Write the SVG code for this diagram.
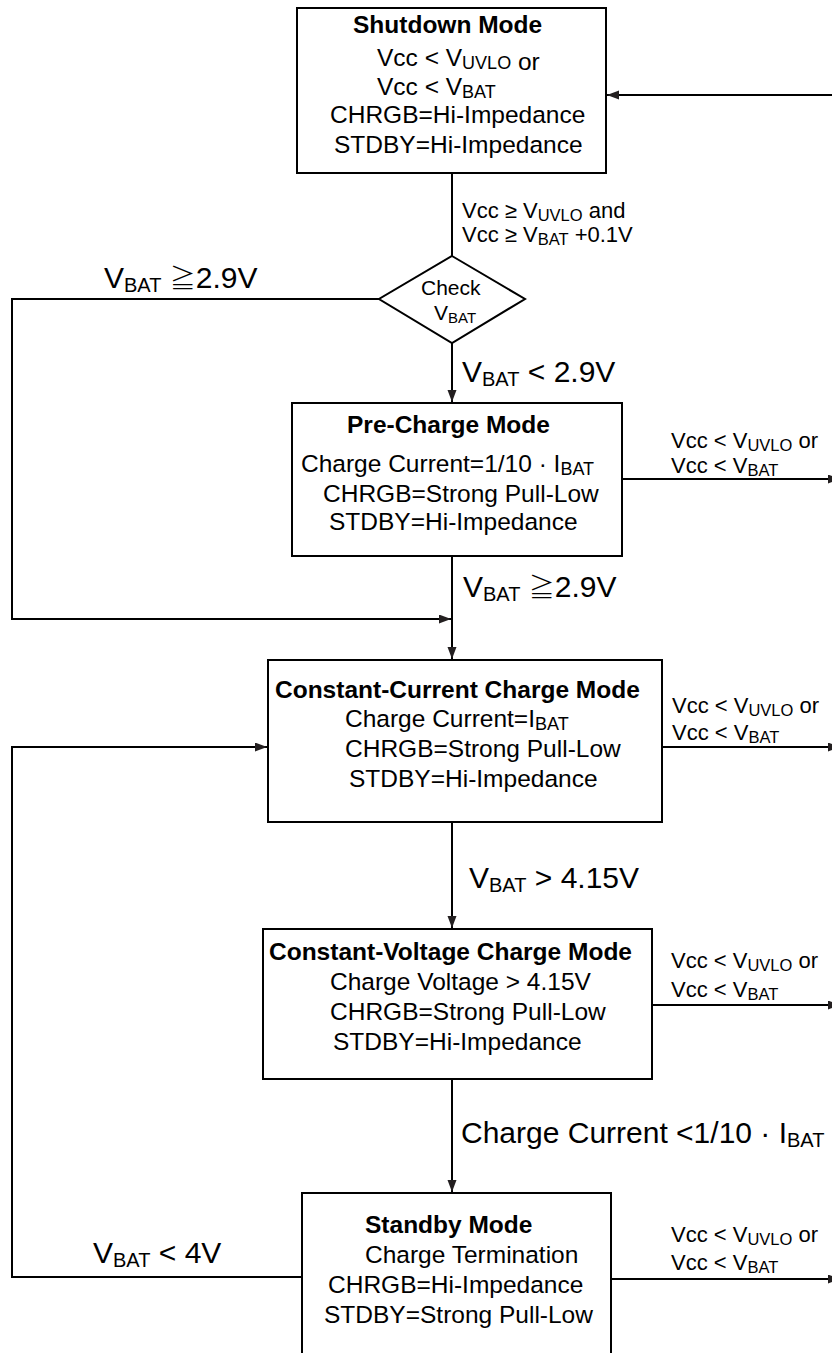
<svg xmlns="http://www.w3.org/2000/svg" width="832" height="1353" viewBox="0 0 832 1353">
<defs>
<marker id="arr" markerUnits="userSpaceOnUse" markerWidth="13" markerHeight="10" refX="12" refY="4.5" orient="auto">
<path d="M0,0 L12,4.5 L0,9 z" fill="#231f20"/>
</marker>
<style>
text{font-family:"Liberation Sans",Arial,"Noto Sans CJK SC",sans-serif;fill:#000}
.b{font-size:24.5px}
.t{font-size:24.5px;font-weight:bold}
.bs{font-size:18px}
.l{font-size:22px}
.ls{font-size:16.5px}
.g{font-size:30px}
.gs{font-size:20px}
.ge{font-family:"Noto Sans CJK SC","Noto Sans CJK JP",sans-serif;font-weight:300;font-size:26px}
.d{font-size:21px}
.ds{font-size:15px}
.box{fill:#fff;stroke:#000;stroke-width:2}
.c{fill:none;stroke:#000;stroke-width:2}
</style>
</defs>
<rect width="832" height="1353" fill="#fff"/>

<g id="connectors">
<line class="c" x1="832" y1="95" x2="607" y2="95" marker-end="url(#arr)"/>
<line class="c" x1="452" y1="173" x2="452" y2="256"/>
<polyline class="c" points="379,299 12,299 12,619 451,619" marker-end="url(#arr)"/>
<line class="c" x1="452" y1="343" x2="452" y2="402" marker-end="url(#arr)"/>
<line class="c" x1="622" y1="479" x2="840" y2="479" marker-end="url(#arr)"/>
<line class="c" x1="452" y1="556" x2="452" y2="659" marker-end="url(#arr)"/>
<line class="c" x1="662" y1="747" x2="840" y2="747" marker-end="url(#arr)"/>
<polyline class="c" points="302,1277 12,1277 12,747 267,747" marker-end="url(#arr)"/>
<line class="c" x1="452" y1="822" x2="452" y2="928" marker-end="url(#arr)"/>
<line class="c" x1="652" y1="1005" x2="840" y2="1005" marker-end="url(#arr)"/>
<line class="c" x1="452" y1="1079" x2="452" y2="1192" marker-end="url(#arr)"/>
<line class="c" x1="611" y1="1279" x2="840" y2="1279" marker-end="url(#arr)"/>
</g>

<g id="labels">
<text class="l" x="462" y="218">Vcc ≥ V<tspan class="ls" dy="3">UVLO</tspan><tspan dy="-3"> and</tspan></text>
<text class="l" x="462" y="242">Vcc ≥ V<tspan class="ls" dy="3">BAT</tspan><tspan dy="-3"> +0.1V</tspan></text>
<text class="g" x="104" y="288">V<tspan class="gs" dy="4">BAT</tspan><tspan dy="-4"> </tspan><tspan class="ge">≧</tspan><tspan>2.9V</tspan></text>
<text class="g" x="462" y="382">V<tspan class="gs" dy="4">BAT</tspan><tspan dy="-4"> &lt; 2.9V</tspan></text>
<text class="l" x="671" y="448">Vcc &lt; V<tspan class="ls" dy="3">UVLO</tspan><tspan dy="-3"> or</tspan></text>
<text class="l" x="671" y="473">Vcc &lt; V<tspan class="ls" dy="3">BAT</tspan></text>
<text class="g" x="463" y="597">V<tspan class="gs" dy="4">BAT</tspan><tspan dy="-4"> </tspan><tspan class="ge">≧</tspan><tspan>2.9V</tspan></text>
<text class="l" x="672" y="713">Vcc &lt; V<tspan class="ls" dy="3">UVLO</tspan><tspan dy="-3"> or</tspan></text>
<text class="l" x="672" y="740">Vcc &lt; V<tspan class="ls" dy="3">BAT</tspan></text>
<text class="g" x="469" y="888">V<tspan class="gs" dy="4">BAT</tspan><tspan dy="-4"> &gt; 4.15V</tspan></text>
<text class="l" x="671" y="968">Vcc &lt; V<tspan class="ls" dy="3">UVLO</tspan><tspan dy="-3"> or</tspan></text>
<text class="l" x="671" y="997">Vcc &lt; V<tspan class="ls" dy="3">BAT</tspan></text>
<text class="g" x="461" y="1143">Charge Current &lt;1/10 · I<tspan class="gs" dy="4">BAT</tspan></text>
<text class="g" x="93" y="1263">V<tspan class="gs" dy="4">BAT</tspan><tspan dy="-4"> &lt; 4V</tspan></text>
<text class="l" x="671" y="1242">Vcc &lt; V<tspan class="ls" dy="3">UVLO</tspan><tspan dy="-3"> or</tspan></text>
<text class="l" x="671" y="1270">Vcc &lt; V<tspan class="ls" dy="3">BAT</tspan></text>
</g>

<g id="shutdown">
<rect class="box" x="297" y="8" width="309" height="165"/>
<text class="t" x="353" y="33">Shutdown Mode</text>
<text class="b" x="377" y="66">Vcc &lt; V<tspan class="bs" dy="3">UVLO</tspan><tspan dy="1"> or</tspan></text>
<text class="b" x="377" y="95">Vcc &lt; V<tspan class="bs" dy="3">BAT</tspan></text>
<text class="b" x="330" y="123">CHRGB=Hi-Impedance</text>
<text class="b" x="334" y="153">STDBY=Hi-Impedance</text>
</g>

<g id="check">
<polygon class="box" points="452,256 525,299 452,343 379,299"/>
<text class="d" x="421" y="295">Check</text>
<text class="d" x="434" y="320">V<tspan class="ds" dy="3">BAT</tspan></text>
</g>

<g id="precharge">
<rect class="box" x="292" y="403" width="330" height="153"/>
<text class="t" x="347" y="433">Pre-Charge Mode</text>
<text class="b" x="301" y="472">Charge Current=1/10 · I<tspan class="bs" dy="3">BAT</tspan></text>
<text class="b" x="323" y="502">CHRGB=Strong Pull-Low</text>
<text class="b" x="329" y="530">STDBY=Hi-Impedance</text>
</g>

<g id="cc">
<rect class="box" x="268" y="660" width="394" height="162"/>
<text class="t" x="275" y="698">Constant-Current Charge Mode</text>
<text class="b" x="345" y="727">Charge Current=I<tspan class="bs" dy="3">BAT</tspan></text>
<text class="b" x="345" y="757">CHRGB=Strong Pull-Low</text>
<text class="b" x="349" y="787">STDBY=Hi-Impedance</text>
</g>

<g id="cv">
<rect class="box" x="263" y="929" width="389" height="150"/>
<text class="t" x="269" y="960">Constant-Voltage Charge Mode</text>
<text class="b" x="330" y="990">Charge Voltage &gt; 4.15V</text>
<text class="b" x="330" y="1020">CHRGB=Strong Pull-Low</text>
<text class="b" x="333" y="1050">STDBY=Hi-Impedance</text>
</g>

<g id="standby">
<rect class="box" x="302" y="1193" width="309" height="200"/>
<text class="t" x="365" y="1233">Standby Mode</text>
<text class="b" x="365" y="1263">Charge Termination</text>
<text class="b" x="328" y="1293">CHRGB=Hi-Impedance</text>
<text class="b" x="324" y="1323">STDBY=Strong Pull-Low</text>
</g>
</svg>
